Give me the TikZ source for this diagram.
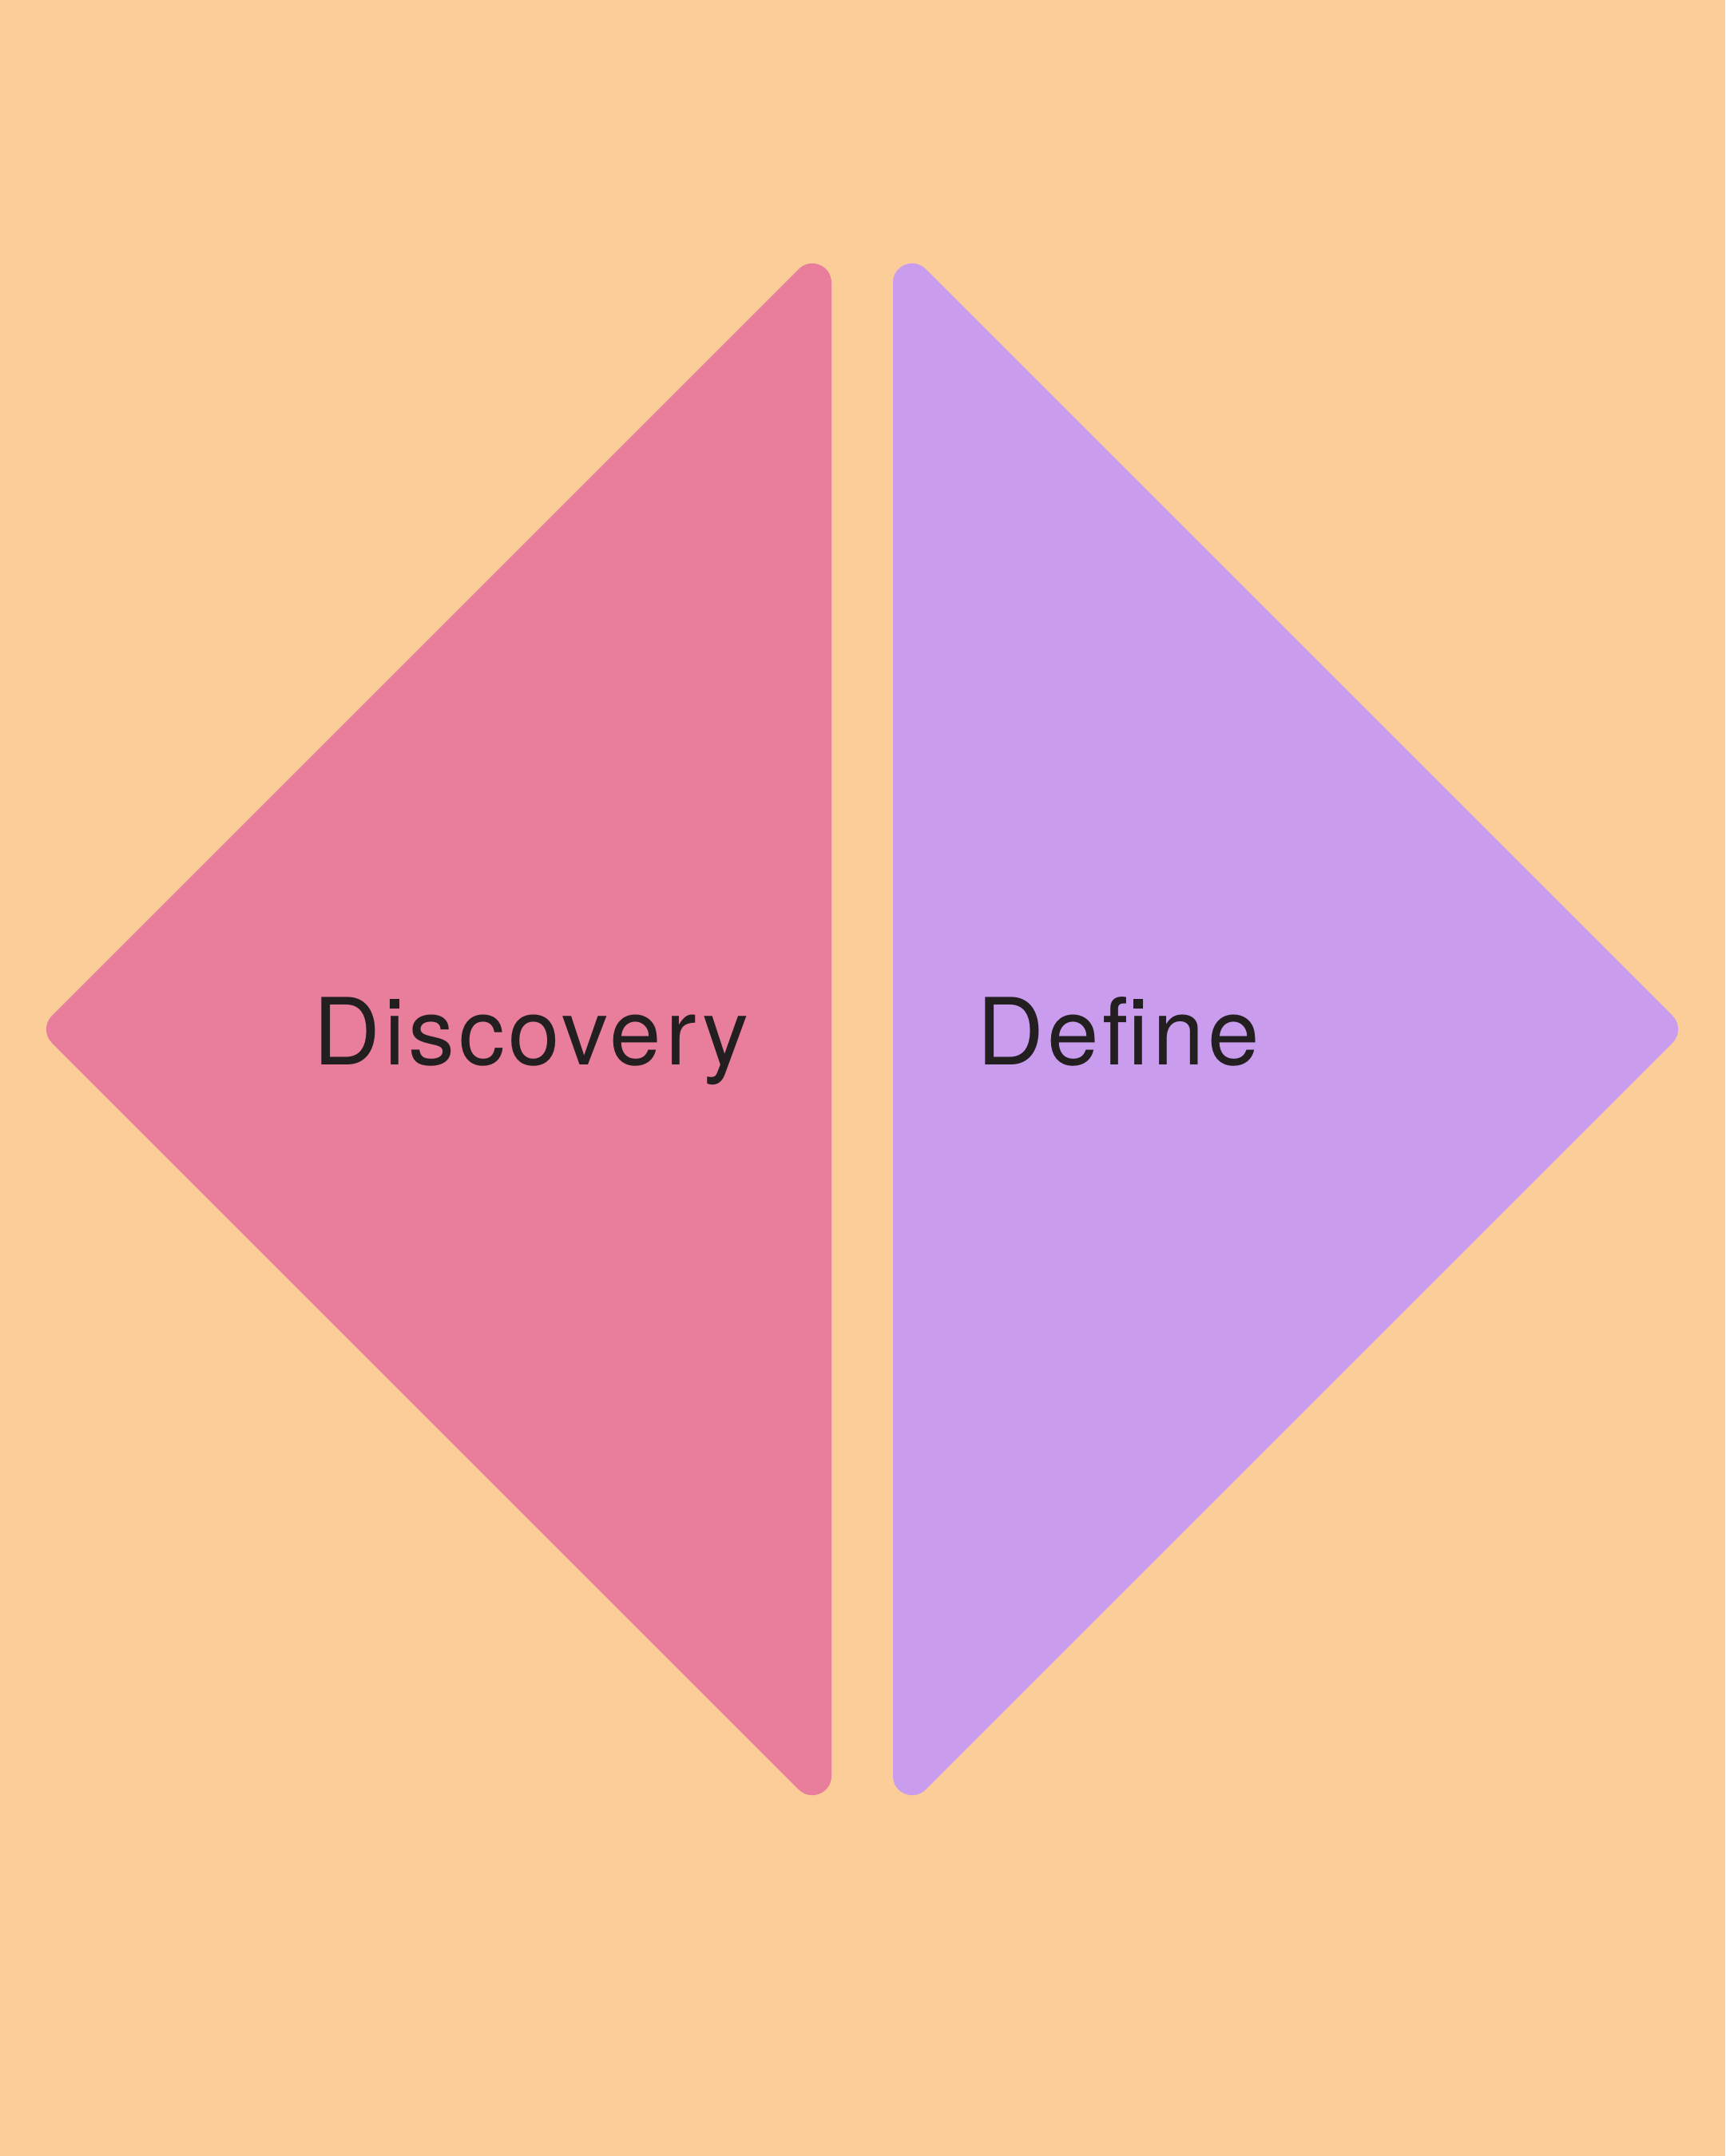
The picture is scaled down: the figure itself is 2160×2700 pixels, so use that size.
\documentclass[tikz,border=0pt]{standalone}
\usepackage{fontspec}
\setmainfont{TeX Gyre Heros}
\newfontfamily\labelfont[LetterSpace=4.0]{TeX Gyre Heros}
\definecolor{bgpeach}{RGB}{251,205,152}
\definecolor{pinkfill}{RGB}{232,126,156}
\definecolor{purplefill}{RGB}{202,156,238}
\definecolor{inkdark}{RGB}{35,31,32}
\begin{document}
\begin{tikzpicture}[x=1pt,y=-1pt,
  phaselabel/.style={inner sep=0pt,anchor=base,text=inkdark,font=\labelfont\fontsize{116}{125}\selectfont}]
\fill[bgpeach] (0,0) rectangle (2160,2700);
\useasboundingbox (0,0) rectangle (2160,2700);
% left half: Discovery
\fill[pinkfill] (1041,353.9) -- (1041,2224.1)
  .. controls (1041,2245.5) and (1015.2,2256.2) .. (1000.1,2241.1)
  -- (65,1306)
  .. controls (55.6,1296.6) and (55.6,1281.4) .. (65,1272)
  -- (1000.1,336.9)
  .. controls (1015.2,321.8) and (1041,332.5) .. (1041,353.9) -- cycle;
% right half: Define
\fill[purplefill] (1118,353.9)
  .. controls (1118,332.5) and (1143.8,321.8) .. (1158.9,336.9)
  -- (2094,1272)
  .. controls (2103.4,1281.4) and (2103.4,1296.6) .. (2094,1306)
  -- (1158.9,2241.1)
  .. controls (1143.8,2256.2) and (1118,2245.5) .. (1118,2224.1) -- cycle;
\node[phaselabel] (discovery) at (665,1333) {Discovery};
\node[phaselabel] (define) at (1400,1333) {Define};
\end{tikzpicture}
\end{document}
